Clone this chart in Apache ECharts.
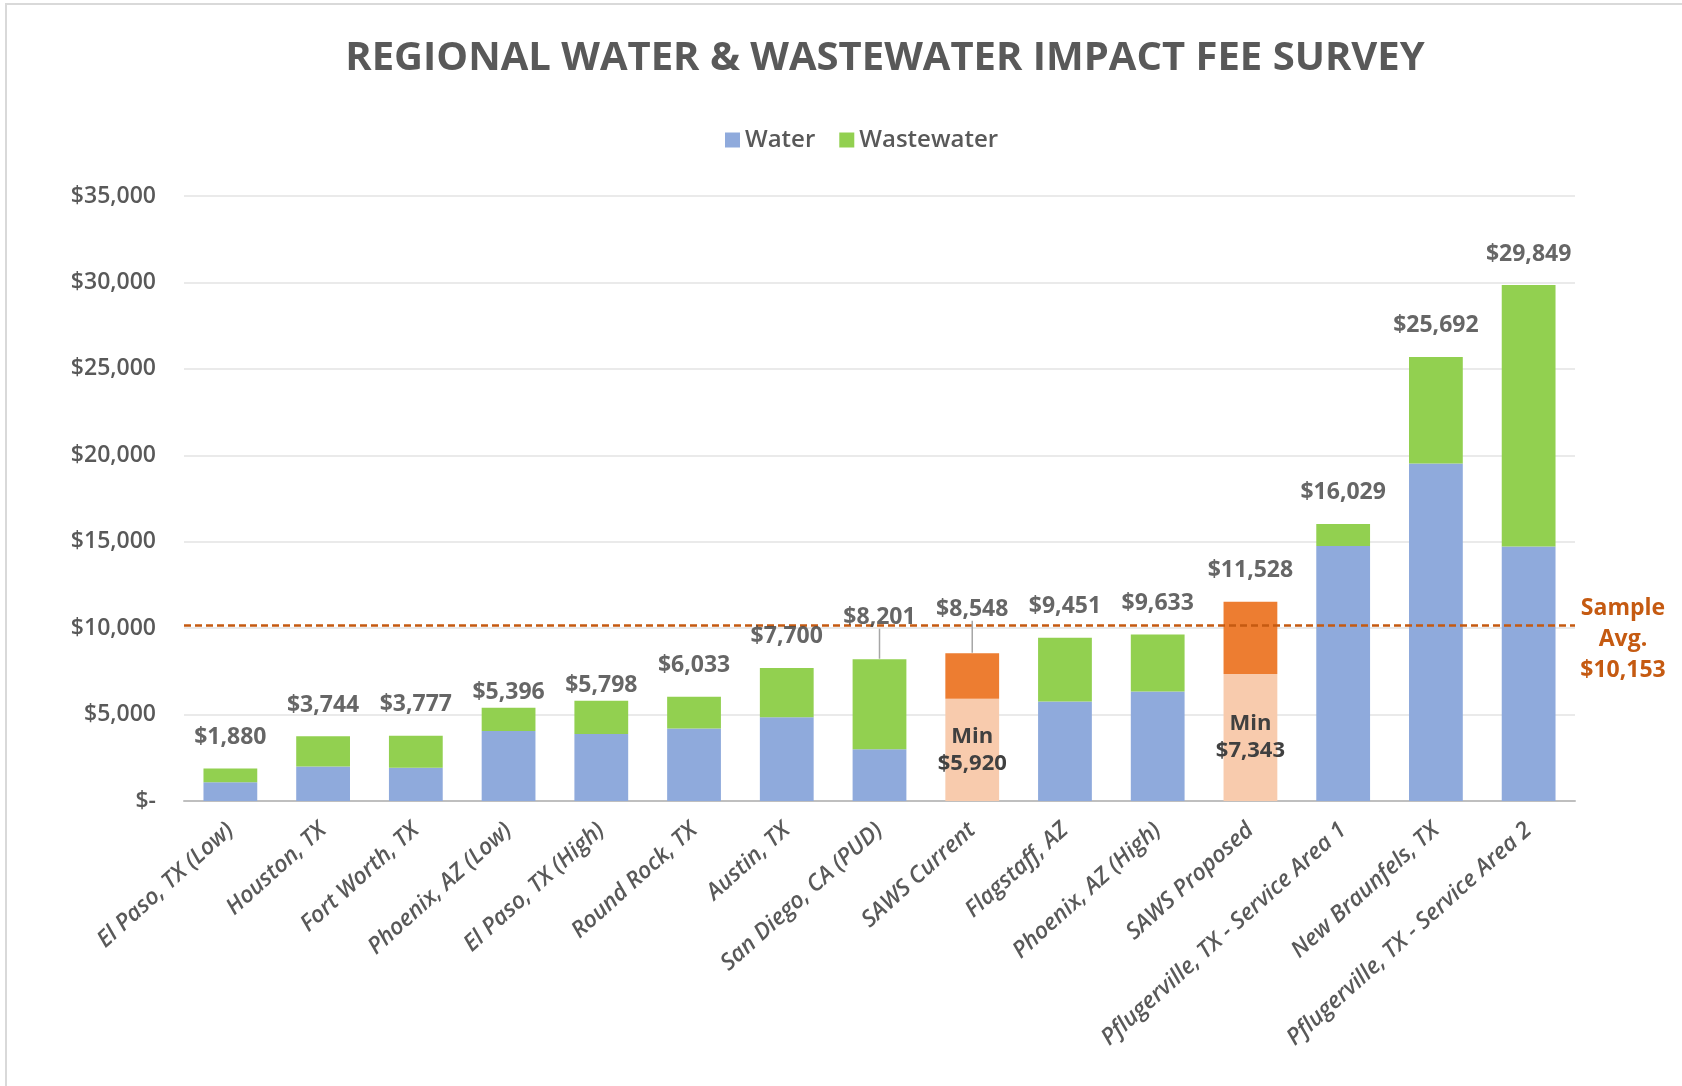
<!DOCTYPE html>
<html>
<head>
<meta charset="utf-8">
<script src="https://cdn.jsdelivr.net/npm/echarts@6/dist/echarts.min.js"></script>
<style>
html,body{margin:0;padding:0;background:#fff;}
#chart{width:1682px;height:1086px;}
</style>
</head>
<body>
<div id="chart"></div>
<script>
// ---------- DATA ----------
const categories = [
  'El Paso, TX (Low)', 'Houston, TX', 'Fort Worth, TX', 'Phoenix, AZ (Low)',
  'El Paso, TX (High)', 'Round Rock, TX', 'Austin, TX', 'San Diego, CA (PUD)',
  'SAWS Current', 'Flagstaff, AZ', 'Phoenix, AZ (High)', 'SAWS Proposed',
  'Pflugerville, TX - Service Area 1', 'New Braunfels, TX', 'Pflugerville, TX - Service Area 2'
];
const waterFee      = [1080, 2000, 1930, 4050, 3880, 4200, 4850, 3000, null, 5750, 6330, null, 14750, 19530, 14730];
const wastewaterFee = [800, 1744, 1847, 1346, 1918, 1833, 2850, 5201, null, 3701, 3303, null, 1279, 6162, 15119];
const sawsMinFee    = [null, null, null, null, null, null, null, null, 5920, null, null, 7343, null, null, null];
const sawsIncrement = [null, null, null, null, null, null, null, null, 2628, null, null, 4185, null, null, null];
const totalFee      = [1880, 3744, 3777, 5396, 5798, 6033, 7700, 8201, 8548, 9451, 9633, 11528, 16029, 25692, 29849];
const sampleAverage = 10153;
const yMin = 0, yMax = 35000, yStep = 5000;

// ---------- STYLE / LAYOUT ----------
const FONT = '"Open Sans", "Noto Sans", sans-serif';
const TXT = '#595959';
const LBL = '#404040';
const labelNudge = {3: 16, 4: 16, 7: -11, 8: -13};
const leaderIdx = {7: true, 8: true};

const money = v => '$' + Math.round(v).toLocaleString('en-US');

const chart = echarts.init(document.getElementById('chart'), null, {renderer: 'canvas'});

const option = {
  backgroundColor: '#ffffff',
  animation: false,
  textStyle: {fontFamily: FONT},
  graphic: [{
    type: 'rect', silent: true, z: -10,
    shape: {x: 6, y: 4, width: 1800, height: 1200},
    style: {fill: 'none', stroke: '#d9d9d9', lineWidth: 2}
  }],
  title: {
    text: 'REGIONAL WATER & WASTEWATER IMPACT FEE SURVEY',
    left: 880, top: 34, textAlign: 'center',
    textStyle: {fontFamily: FONT, fontSize: 40, fontWeight: 'bold', color: TXT}
  },
  legend: {
    data: ['Water', 'Wastewater'],
    left: 720, top: 123,
    icon: 'rect', itemWidth: 15, itemHeight: 15, itemGap: 24, itemStyle: {borderWidth: 0},
    textStyle: {fontFamily: FONT, fontSize: 24, fontWeight: 600, color: TXT}
  },
  grid: {left: 184, right: 107, top: 196, bottom: 285, containLabel: false},
  xAxis: {
    type: 'category', data: categories,
    axisLine: {lineStyle: {color: '#bfbfbf', width: 2}},
    axisTick: {show: false},
    axisLabel: {
      interval: 0, rotate: 42, margin: 26,
      fontFamily: FONT, fontSize: 23, fontStyle: 'italic', fontWeight: 600, color: TXT
    }
  },
  yAxis: {
    type: 'value', min: yMin, max: yMax, interval: yStep,
    axisLine: {show: false}, axisTick: {show: false},
    splitLine: {lineStyle: {color: '#e3e3e3', width: 1.5}},
    axisLabel: {
      margin: 28, fontFamily: FONT, fontSize: 23, fontWeight: 600, color: TXT,
      formatter: v => v === 0 ? '$-' : money(v)
    }
  },
  series: [
    {
      name: 'Water', type: 'bar', stack: 'fee', data: waterFee, barWidth: '58%',
      itemStyle: {color: '#8FAADC'},
      markLine: {
        silent: true, symbol: 'none',
        lineStyle: {color: '#C55A11', type: [7, 4], width: 2.5},
        data: [{yAxis: sampleAverage}],
        label: {
          show: true, position: 'end', distance: 6,
          formatter: 'Sample\nAvg.\n' + money(sampleAverage),
          align: 'center', offset: [42, 14],
          fontFamily: FONT, fontSize: 23, fontWeight: 'bold', color: '#C55A11', lineHeight: 31
        }
      }
    },
    {
      name: 'Wastewater', type: 'bar', stack: 'fee', data: wastewaterFee, barWidth: '58%',
      itemStyle: {color: '#92D050'}
    },
    {
      name: 'SAWS Min', type: 'bar', stack: 'fee', data: sawsMinFee, barWidth: '58%',
      itemStyle: {color: '#F8CBAD'},
      label: {
        show: true, position: 'inside',
        formatter: p => 'Min\n' + money(p.value),
        fontFamily: FONT, fontSize: 22, fontWeight: 'bold', color: LBL, lineHeight: 27
      }
    },
    {
      name: 'SAWS Increment', type: 'bar', stack: 'fee', data: sawsIncrement, barWidth: '58%',
      itemStyle: {color: '#ED7D31'}
    },
    {
      name: 'Total', type: 'scatter', z: 10,
      symbolSize: 1, itemStyle: {color: 'rgba(0,0,0,0)'},
      data: totalFee.map((v, i) => ({
        value: [i, v],
        labelLine: {show: !!leaderIdx[i], lineStyle: {color: '#a6a6a6', width: 1.5}}
      })),
      label: {
        show: true, position: 'top', distance: 19,
        formatter: p => money(p.value[1]),
        fontFamily: FONT, fontSize: 23, fontWeight: 'bold', color: LBL
      },
      labelLayout: p => (labelNudge[p.dataIndex] !== undefined ? {dy: labelNudge[p.dataIndex]} : {})
    }
  ]
};
chart.setOption(option);
</script>
</body>
</html>
